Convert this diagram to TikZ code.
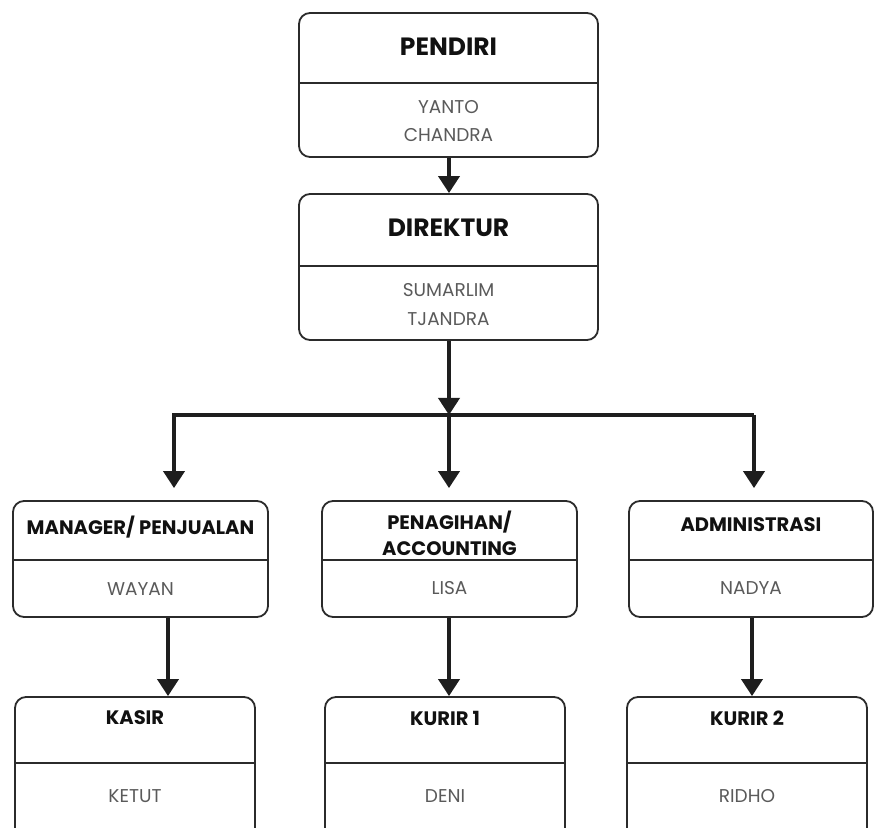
\documentclass[tikz,border=0pt]{standalone}
\usepackage{fontspec}
\setmainfont{Poppins}
\usetikzlibrary{arrows.meta}
\definecolor{boxc}{HTML}{2B2B2B}
\definecolor{arrc}{HTML}{1E1E1E}
\definecolor{titlec}{HTML}{111111}
\definecolor{namec}{HTML}{5A5A5A}
\begin{document}
\begin{tikzpicture}[x=1pt,y=1pt,
  orgbox/.style={draw=boxc,line width=1.8pt,rounded corners=11pt,inner sep=0pt,fill=white},
  divider/.style={draw=boxc,line width=1.8pt},
  bigtitle/.style={font=\bfseries\fontsize{25}{30}\selectfont,text=titlec,inner sep=0pt,text depth=0pt},
  smalltitle/.style={font=\bfseries\fontsize{19.5}{26}\selectfont,text=titlec,inner sep=0pt,text depth=0pt,align=center},
  bigname/.style={font=\fontsize{18.5}{22}\selectfont,text=namec,inner sep=0pt,text depth=0pt},
  conn/.style={draw=arrc,line width=3.8pt,-{Triangle[width=21pt,length=17pt]}},
  bar/.style={draw=arrc,line width=3.8pt}]
\useasboundingbox (0,0) rectangle (875,827);
\clip (0,0) rectangle (875,827);
% top boxes
\node[orgbox,minimum width=299pt,minimum height=144pt] (pend) at (448.5,742) {};
\draw[divider] (pend.west |- 0,744) -- (pend.east |- 0,744);
\node[bigtitle] (pendT) at (448.5,780) {PENDIRI};
\node[bigname] (pendA) at (448.5,720) {YANTO};
\node[bigname] (pendB) at (448.5,692) {CHANDRA};

\node[orgbox,minimum width=299pt,minimum height=146pt] (dir) at (448.5,560) {};
\draw[divider] (dir.west |- 0,561) -- (dir.east |- 0,561);
\node[bigtitle] (dirT) at (448.5,599) {DIREKTUR};
\node[bigname] (dirA) at (448.5,537) {SUMARLIM};
\node[bigname] (dirB) at (448.5,508) {TJANDRA};

% second row
\node[orgbox,minimum width=255pt,minimum height=116pt] (mgr) at (140.5,268) {};
\draw[divider] (mgr.west |- 0,267) -- (mgr.east |- 0,267);
\node[smalltitle] (mgrT) at (140.5,302) {MANAGER/ PENJUALAN};
\node[bigname] (mgrN) at (140.5,238) {WAYAN};

\node[orgbox,minimum width=255pt,minimum height=116pt] (pen) at (449.5,268) {};
\draw[divider] (pen.west |- 0,267) -- (pen.east |- 0,267);
\node[smalltitle] (penT) at (449.5,294) {PENAGIHAN/\\ACCOUNTING};
\node[bigname] (penN) at (449.5,239) {LISA};

\node[orgbox,minimum width=244pt,minimum height=116pt] (adm) at (751,268) {};
\draw[divider] (adm.west |- 0,267) -- (adm.east |- 0,267);
\node[smalltitle] (admT) at (751,302) {ADMINISTRASI};
\node[bigname] (admN) at (751,239) {NADYA};

% third row
\node[orgbox,minimum width=240pt,minimum height=145pt] (kas) at (135,57.5) {};
\draw[divider] (kas.west |- 0,64) -- (kas.east |- 0,64);
\node[smalltitle] (kasT) at (135,109) {KASIR};
\node[bigname] (kasN) at (135,31) {KETUT};

\node[orgbox,minimum width=240pt,minimum height=145pt] (k1) at (445,57.5) {};
\draw[divider] (k1.west |- 0,64) -- (k1.east |- 0,64);
\node[smalltitle] (k1T) at (445,109) {KURIR 1};
\node[bigname] (k1N) at (445,31) {DENI};

\node[orgbox,minimum width=240pt,minimum height=145pt] (k2) at (747,57.5) {};
\draw[divider] (k2.west |- 0,64) -- (k2.east |- 0,64);
\node[smalltitle] (k2T) at (747,109) {KURIR 2};
\node[bigname] (k2N) at (747,31) {RIDHO};

% connectors
\coordinate (hj) at (449,412);
\coordinate (hl) at (174,412);
\coordinate (hr) at (754,412);
\draw[conn] (pend.south -| 449,0) -- (dir.north -| 449,0);
\draw[bar] ([xshift=-2pt]hl) -- (hr);
\draw[conn] (dir.south -| hj) -- (hj);
\draw[conn] (hl) -- ([yshift=12pt]mgr.north -| hl);
\draw[conn] (hj) -- ([yshift=12pt]pen.north -| hj);
\draw[conn] (hr) -- ([yshift=12pt]adm.north -| hr);
\draw[conn] (mgr.south -| 168,0) -- (kas.north -| 168,0);
\draw[conn] (pen.south -| 449,0) -- (k1.north -| 449,0);
\draw[conn] (adm.south -| 752,0) -- (k2.north -| 752,0);
\end{tikzpicture}
\end{document}
